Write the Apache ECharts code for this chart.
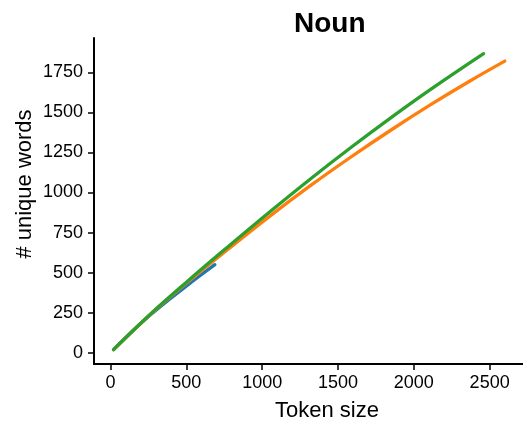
<!DOCTYPE html>
<html>
<head>
<meta charset="utf-8">
<script src="https://cdn.jsdelivr.net/npm/echarts@6/dist/echarts.min.js"></script>
<style>
  html, body { margin: 0; padding: 0; background: #fff; }
  #chart { width: 523px; height: 422px; }
</style>
</head>
<body>
<div id="chart"></div>
<script>
// Vocabulary growth: number of unique nouns against token count
const blueTokens   = [20, 250, 495, 688];
const blueUnique   = [20, 226, 413, 550];

const orangeTokens = [20, 250, 495, 775, 1055, 1320, 1583, 1850, 2111, 2370, 2600];
const orangeUnique = [20, 228, 430, 646, 856, 1044, 1220, 1390, 1548, 1696, 1820];

const greenTokens  = [20, 250, 495, 775, 1055, 1320, 1583, 1850, 2111, 2460];
const greenUnique  = [20, 230, 436, 662, 883, 1086, 1279, 1467, 1643, 1866];

const xTicks = [0, 500, 1000, 1500, 2000, 2500];
const yTicks = [0, 250, 500, 750, 1000, 1250, 1500, 1750];

const pairs = (xs, ys) => xs.map((x, i) => [x, ys[i]]);
const plain = v => String(v);

const font = '"Liberation Sans", Arial, sans-serif';
const ink = '#000';

const lineSeries = (data, color) => ({
  type: 'line',
  data,
  showSymbol: false,
  smooth: 0.4,
  lineStyle: { color, width: 3.3, cap: 'round' },
  itemStyle: { color },
  animation: false
});

const chart = echarts.init(document.getElementById('chart'), null, { renderer: 'canvas' });
chart.setOption({
  backgroundColor: '#fff',
  animation: false,
  title: {
    text: 'Noun',
    left: 289,
    top: 5,
    textStyle: { fontFamily: font, fontSize: 28, fontWeight: 'bold', color: ink }
  },
  grid: { left: 94, right: 0, top: 38, bottom: 58, outerBoundsMode: 'none', containLabel: false },
  xAxis: {
    type: 'value',
    min: -109,
    max: 2720,
    name: 'Token size',
    nameLocation: 'middle',
    nameGap: 36,
    nameMoveOverlap: false,
    nameTextStyle: { fontFamily: font, fontSize: 22, color: ink, padding: [0, 0, 0, 37] },
    axisLine: { show: true, onZero: false, lineStyle: { color: ink, width: 2 } },
    axisTick: { show: true, length: 6, customValues: xTicks, lineStyle: { color: ink, width: 1.5 } },
    axisLabel: { customValues: xTicks, formatter: plain, margin: 10, fontFamily: font, fontSize: 18, color: ink },
    splitLine: { show: false }
  },
  yAxis: {
    type: 'value',
    min: -70,
    max: 1964,
    name: '# unique words',
    nameLocation: 'middle',
    nameGap: 58,
    nameRotate: 90,
    nameMoveOverlap: false,
    nameTextStyle: { fontFamily: font, fontSize: 22, color: ink, padding: [0, 0, 0, 34] },
    axisLine: { show: true, onZero: false, lineStyle: { color: ink, width: 2 } },
    axisTick: { show: true, length: 6, customValues: yTicks, lineStyle: { color: ink, width: 1.5 } },
    axisLabel: { customValues: yTicks, formatter: plain, margin: 11, fontFamily: font, fontSize: 18, color: ink },
    splitLine: { show: false }
  },
  series: [
    lineSeries(pairs(blueTokens, blueUnique), '#1f77b4'),
    lineSeries(pairs(orangeTokens, orangeUnique), '#ff7f0e'),
    lineSeries(pairs(greenTokens, greenUnique), '#2ca02c')
  ]
});
</script>
</body>
</html>
